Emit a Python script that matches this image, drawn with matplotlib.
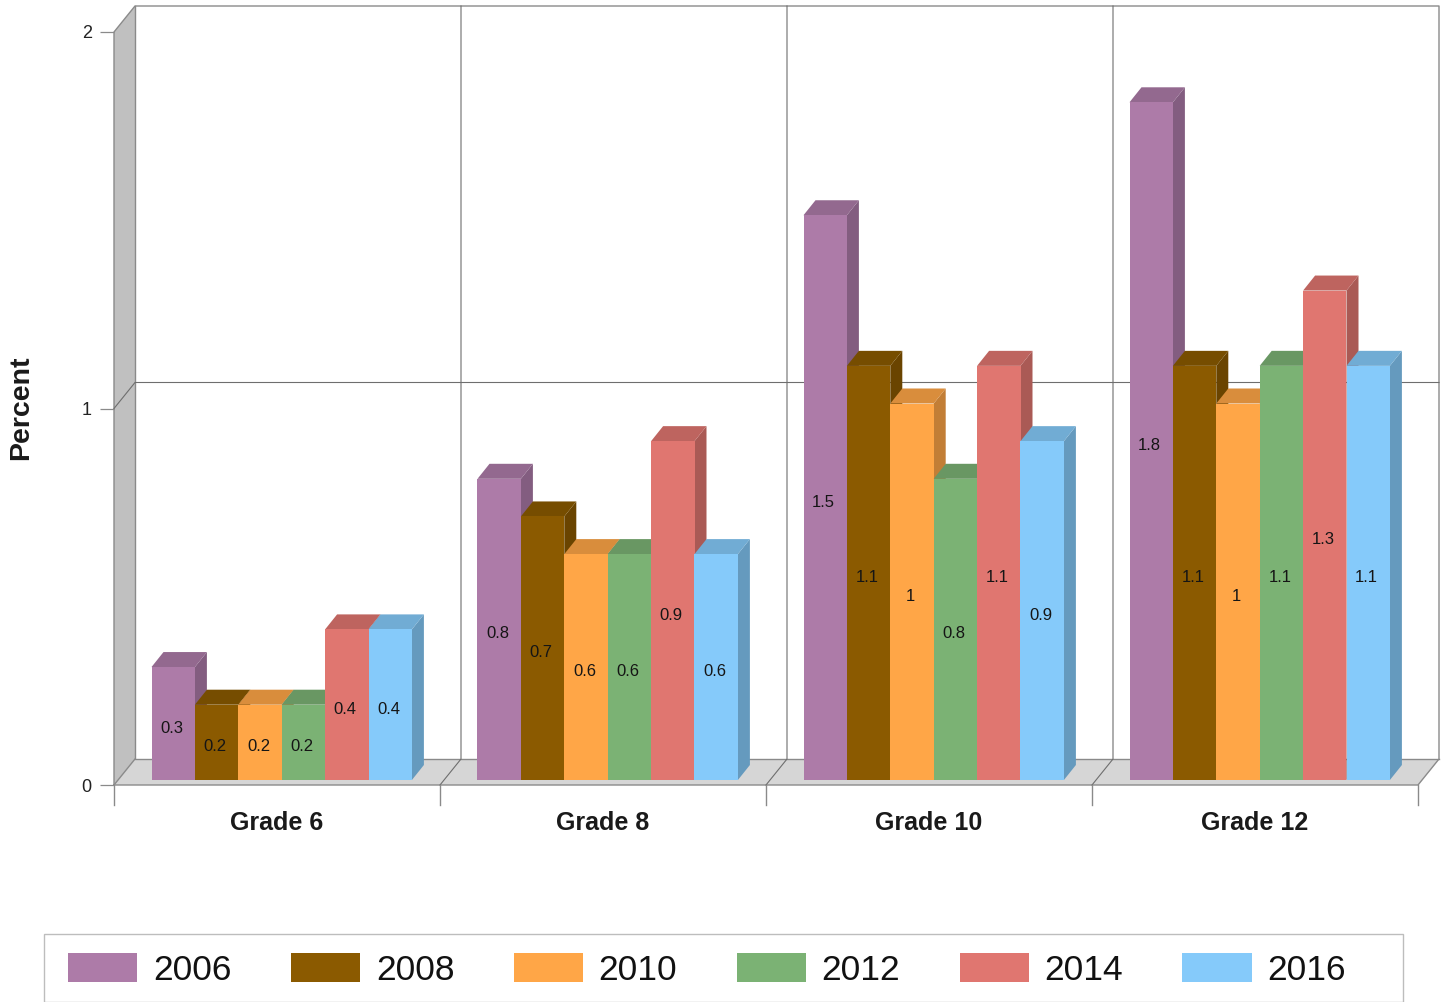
import numpy as np
import matplotlib
matplotlib.use("Agg")
from matplotlib import pyplot as plt
from matplotlib.patches import Patch, Rectangle
import matplotlib.colors as mcolors

grades = ['Grade 6', 'Grade 8', 'Grade 10', 'Grade 12']
years = ['2006', '2008', '2010', '2012', '2014', '2016']
v2006 = [0.3, 0.8, 1.5, 1.8]
v2008 = [0.2, 0.7, 1.1, 1.1]
v2010 = [0.2, 0.6, 1.0, 1.0]
v2012 = [0.2, 0.6, 0.8, 1.1]
v2014 = [0.4, 0.9, 1.1, 1.3]
v2016 = [0.4, 0.6, 0.9, 1.1]
series = [v2006, v2008, v2010, v2012, v2014, v2016]
colors = ['#AD7BA8', '#8B5A00', '#FFA647', '#7BB274', '#E07670', '#85CAFA']

W, H = 1444, 1002
plt.rcParams['font.family'] = ['Liberation Sans', 'DejaVu Sans']

fig = plt.figure(figsize=(W / 100, H / 100), dpi=100)
# axes is the front plane of the fake 3d box
x0, x1, y0, y2 = 114, 1418, 785, 32
ax = fig.add_axes([x0 / W, 1 - y0 / H, (x1 - x0) / W, (y0 - y2) / H])
ax.set_xlim(0, 4)
ax.set_ylim(0, 2)
for s in ax.spines.values():
    s.set_visible(False)

# pixel sizes turned into data units
px = 4 / (x1 - x0)
py = 2 / (y0 - y2)
wall_dx, wall_dy = 21 * px, 26 * py
bar_dx, bar_dy = 12 * px, 15 * py
base = 5 * py
bar_w = 43.4 * px
first = 37.5 * px

line = '#8a8a8a'
# left wall and floor
ax.fill([0, wall_dx, wall_dx, 0], [0, wall_dy, 2 + wall_dy, 2], color='#c0c0c0', lw=0, clip_on=False, zorder=1)
ax.fill([0, wall_dx, 4 + wall_dx, 4], [0, wall_dy, wall_dy, 0], color='#d6d6d6', lw=0, clip_on=False, zorder=1)
ax.plot([0, 0, wall_dx, 4 + wall_dx, 4 + wall_dx, 4, 0], [0, 2, 2 + wall_dy, 2 + wall_dy, wall_dy, 0, 0],
        color=line, lw=1.0, clip_on=False, zorder=2)
ax.plot([wall_dx, wall_dx, 4 + wall_dx], [2 + wall_dy, wall_dy, wall_dy], color=line, lw=1, clip_on=False, zorder=2)
ax.plot([0, wall_dx], [0, wall_dy], color=line, lw=1, clip_on=False, zorder=2)

# grid on back wall and floor
ax.plot([0, wall_dx, 4 + wall_dx], [1, 1 + wall_dy, 1 + wall_dy], color='#6e6e6e', lw=0.8, clip_on=False, zorder=2)
for g in range(1, 4):
    ax.plot([g, g + wall_dx, g + wall_dx], [0, wall_dy, 2 + wall_dy], color='#6e6e6e', lw=0.8, clip_on=False, zorder=2)
for g in range(0, 5):
    ax.plot([g, g], [0, -20 * py], color=line, lw=1, clip_on=False, zorder=2)

# bars, left to right so each one covers the side of the one before
for g in range(len(grades)):
    for i, vals in enumerate(series):
        v = vals[g]
        left = g + first + i * bar_w
        right = left + bar_w
        top = base + v
        c = np.array(mcolors.to_rgb(colors[i]))
        ax.fill([right, right + bar_dx, right + bar_dx, right],
                [base, base + bar_dy, top + bar_dy, top], color=c * 0.76, lw=0, clip_on=False, zorder=3 + g + i * 0.1)
        ax.fill([left, left + bar_dx, right + bar_dx, right],
                [top, top + bar_dy, top + bar_dy, top], color=c * 0.85, lw=0, clip_on=False, zorder=3 + g + i * 0.1)
        ax.bar(left, v, bar_w, bottom=base, align='edge', color=c, lw=0, clip_on=False, zorder=3 + g + i * 0.1)
        ax.text(left + bar_w / 2 - 1.5 * px, base + v / 2 - 4.5 * py, '%g' % v, ha='center', va='center',
                fontsize=12, color='#151515', zorder=20)

ax.set_xticks(np.arange(len(grades)) + 0.5)
ax.set_xticklabels(grades, fontsize=18, fontweight='bold', color='#1a1a1a')
ax.tick_params(axis='x', length=0, pad=19)
ax.set_yticks([0, 1, 2])
ax.set_yticklabels(['0', '1', '2'], fontsize=13, color='#222222')
ax.tick_params(axis='y', length=10, width=0.9, color=line, pad=6)
ax.set_ylabel('Percent', fontsize=20.5, fontweight='bold', color='#1a1a1a')
ax.yaxis.set_label_coords((34 - x0) / (x1 - x0), (y0 - 408) / (y0 - y2))

# legend box runs to the bottom edge of the picture
fig.add_artist(Rectangle((44 / W, 0), 1359 / W, 68 / H, transform=fig.transFigure,
                         facecolor='white', edgecolor='#bdbdbd', lw=1))
handles = [Patch(facecolor=c, edgecolor='none', label=y) for c, y in zip(colors, years)]
fig.legend(handles=handles, ncol=6, loc='center left', bbox_to_anchor=(44 / W, 32 / H), frameon=False,
           fontsize=25.5, handlelength=1.95, handleheight=0.875, handletextpad=0.45, columnspacing=1.675,
           borderpad=0, borderaxespad=0.68, labelcolor='#111111')

fig.savefig('out.png', dpi=100)
